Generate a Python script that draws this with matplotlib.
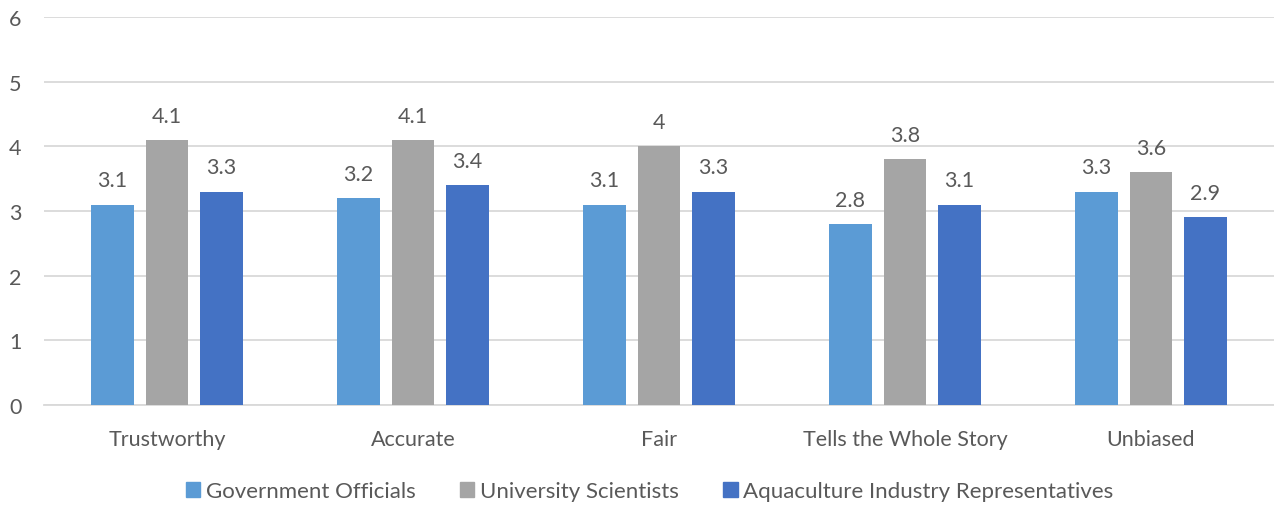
import matplotlib
matplotlib.use("Agg")
import matplotlib.pyplot as plt
from matplotlib.patches import Patch
import numpy as np

categories = ["Trustworthy", "Accurate", "Fair", "Tells the Whole Story", "Unbiased"]
series_names = ["Government Officials", "University Scientists",
                "Aquaculture Industry Representatives"]
government = [3.1, 3.2, 3.1, 2.8, 3.3]
university = [4.1, 4.1, 4.0, 3.8, 3.6]
industry = [3.3, 3.4, 3.3, 3.1, 2.9]
colors = ["#5B9BD5", "#A5A5A5", "#4472C4"]
yticks = [0, 1, 2, 3, 4, 5, 6]

plt.rcParams["font.family"] = ["Lato", "DejaVu Sans"]
text_color = "#595959"

fig = plt.figure(figsize=(12.74, 5.06), dpi=100)
ax = fig.add_axes([0.0345, 0.1976, 0.9655, 0.7668])

x = np.arange(len(categories))
width = 0.172
offsets = [-0.2215, 0.0, 0.2215]
for vals, off, col, name in zip([government, university, industry], offsets, colors, series_names):
    bars = ax.bar(x + off, vals, width, color=col, label=name, zorder=3)
    for b, v in zip(bars, vals):
        ax.text(b.get_x() + b.get_width() / 2, v + 0.22, f"{v:g}",
                ha="center", va="bottom", fontsize=15.5, color=text_color)

ax.set_xlim(-0.5, len(categories) - 0.5)
ax.set_ylim(0, 6)
ax.set_yticks(yticks)
ax.set_xticks(x)
ax.set_xticklabels(categories)
ax.yaxis.grid(True, color="#D9D9D9", linewidth=1.3, zorder=0)
ax.set_axisbelow(True)
for s in ["top", "right", "left"]:
    ax.spines[s].set_visible(False)
ax.spines["bottom"].set_color("#D9D9D9")
ax.spines["bottom"].set_linewidth(1.3)
ax.tick_params(axis="both", length=0, labelsize=15.5, labelcolor=text_color)
ax.tick_params(axis="y", pad=25)
ax.tick_params(axis="x", pad=17)
for lbl in ax.get_yticklabels():
    lbl.set_horizontalalignment("left")

handles = [Patch(color=c) for c in colors]
fig.legend(handles, series_names, loc="lower center", ncol=3, frameon=False,
           bbox_to_anchor=(0.51, -0.032), fontsize=16, labelcolor=text_color,
           handlelength=0.65, handleheight=0.65, handletextpad=0.25, columnspacing=2.0)

fig.savefig("out.png", dpi=100)
